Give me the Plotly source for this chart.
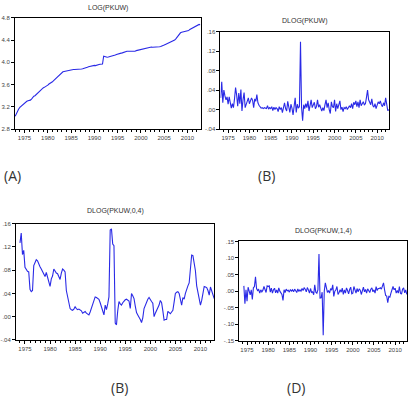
import numpy as np
import plotly.graph_objects as go

# ---------------- data (quarterly) ----------------
start_level = 1973.0          # 1973Q1
start_dlog = 1973.25          # 1973Q2
start_dlog04 = 1974.0         # 1974Q1
start_dlog14 = 1974.25        # 1974Q2

log_pkuw = [
    3.03, 3.08, 3.12, 3.16, 3.19, 3.21, 3.23, 3.25, 3.27, 3.29, 3.30, 3.31,
    3.31, 3.32, 3.34, 3.37, 3.39, 3.40, 3.42, 3.45, 3.47, 3.48, 3.50, 3.52,
    3.54, 3.55, 3.56, 3.58, 3.59, 3.61, 3.62, 3.64, 3.65, 3.67, 3.69, 3.71,
    3.73, 3.75, 3.77, 3.80, 3.82, 3.83, 3.835, 3.84, 3.85, 3.85, 3.855, 3.86,
    3.86, 3.865, 3.87, 3.87, 3.87, 3.875, 3.875, 3.88, 3.88, 3.88, 3.885, 3.89,
    3.89, 3.90, 3.91, 3.92, 3.925, 3.93, 3.94, 3.94, 3.945, 3.94, 3.95, 3.96,
    3.96, 3.965, 3.97, 3.97, 4.11, 4.10, 4.09, 4.09, 4.095, 4.10, 4.10, 4.11,
    4.12, 4.125, 4.13, 4.14, 4.15, 4.15, 4.16, 4.165, 4.17, 4.18, 4.19, 4.195,
    4.20, 4.20, 4.20, 4.20, 4.20, 4.20, 4.195, 4.20, 4.21, 4.215, 4.22, 4.23,
    4.24, 4.245, 4.245, 4.25, 4.255, 4.26, 4.265, 4.27, 4.275, 4.275, 4.27, 4.27,
    4.275, 4.275, 4.28, 4.28, 4.28, 4.285, 4.29, 4.30, 4.31, 4.32, 4.33, 4.335,
    4.34, 4.35, 4.36, 4.37, 4.38, 4.40, 4.42, 4.45, 4.49, 4.51, 4.53, 4.54,
    4.545, 4.55, 4.55, 4.555, 4.56, 4.57, 4.59, 4.60, 4.61, 4.625, 4.64, 4.65,
    4.66, 4.675, 4.68, 4.675,
]

dlog_pkuw = [
    0.024, 0.057, 0.014, 0.040, 0.028, 0.020, 0.026, 0.011, 0.026, 0.015,
    0.003, 0.012, 0.004, 0.022, 0.045, 0.030, 0.007, 0.034, 0.012, 0.041,
    -0.003, 0.020, 0.035, 0.004, 0.010, 0.014, 0.024, 0.012, 0.017, 0.024,
    0.019, 0.004, 0.022, 0.017, 0.031, 0.014, 0.009, 0.005, 0.003, 0.004,
    0.002, 0.004, 0.003, 0.002, 0.008, 0.001, 0.004, 0.002, 0.006, -0.002,
    0.005, 0.000, 0.004, 0.002, -0.004, 0.006, 0.000, 0.004, -0.006, 0.006,
    0.014, 0.002, -0.003, 0.017, 0.004, -0.006, 0.011, 0.003, -0.011, 0.010,
    0.024, -0.006, 0.011, 0.003, 0.006, 0.139, 0.005, -0.023, 0.010, 0.002,
    0.012, 0.004, 0.018, -0.003, 0.012, 0.020, 0.004, 0.008, 0.015, 0.002,
    0.006, 0.020, 0.005, 0.010, 0.000, -0.003, 0.004, -0.002, 0.010, 0.020,
    0.004, 0.014, 0.000, -0.008, 0.016, 0.006, 0.004, 0.020, -0.004, 0.012,
    0.002, 0.008, 0.018, 0.000, 0.005, -0.004, 0.004, 0.002, 0.006, 0.000,
    0.006, 0.008, 0.004, 0.012, 0.002, 0.015, 0.010, 0.018, 0.006, 0.016,
    0.004, 0.020, 0.008, 0.012, 0.016, 0.010, 0.012, 0.025, 0.040, 0.020,
    0.014, 0.010, 0.022, 0.008, 0.005, 0.012, 0.002, 0.010, 0.016, 0.012,
    0.018, 0.010, 0.006, 0.014, 0.008, 0.024, 0.010, -0.002, 0.000,
]

dlog_pkuw_0_4 = [
    0.127, 0.144, 0.107, 0.114, 0.085, 0.080, 0.078, 0.077, 0.047, 0.043,
    0.045, 0.088, 0.092, 0.098, 0.096, 0.090, 0.086, 0.082, 0.078, 0.072,
    0.069, 0.076, 0.068, 0.058, 0.052, 0.065, 0.070, 0.082, 0.077, 0.075,
    0.074, 0.068, 0.064, 0.075, 0.082, 0.080, 0.077, 0.045, 0.034, 0.022,
    0.014, 0.012, 0.011, 0.013, 0.017, 0.014, 0.012, 0.013, 0.011, 0.010,
    0.006, 0.008, 0.009, 0.006, 0.004, 0.003, 0.008, 0.014, 0.022, 0.028,
    0.034, 0.033, 0.031, 0.030, 0.024, 0.017, 0.008, 0.003, 0.020, 0.012,
    0.022, 0.034, 0.149, 0.151, 0.125, 0.122, -0.011, -0.014, 0.010, 0.026,
    0.022, 0.020, 0.024, 0.027, 0.029, 0.030, 0.029, 0.027, 0.014, 0.040,
    0.036, 0.031, 0.018, 0.007, 0.003, 0.000, -0.005, -0.010, -0.002, 0.014,
    0.020, 0.026, 0.030, 0.033, 0.028, 0.026, 0.023, 0.000, 0.006, 0.011,
    0.014, 0.020, 0.028, 0.024, 0.010, -0.006, -0.005, -0.005, 0.009, 0.007,
    0.005, 0.008, 0.011, 0.025, 0.040, 0.042, 0.043, 0.040, 0.030, 0.020,
    0.033, 0.030, 0.040, 0.048, 0.053, 0.058, 0.088, 0.106, 0.105, 0.092,
    0.079, 0.053, 0.040, 0.034, 0.020, 0.028, 0.040, 0.052, 0.051, 0.050,
    0.045, 0.037, 0.051, 0.045, 0.040, 0.031,
]

dlog_pkuw_1_4 = [
    0.016, -0.038, 0.004, -0.030, 0.012, 0.000, -0.011, 0.004, -0.025, 0.010,
    0.014, 0.043, 0.008, 0.002, 0.005, -0.006, 0.004, -0.002, 0.003, 0.014,
    0.001, -0.004, 0.016, 0.014, 0.016, -0.003, 0.009, -0.006, 0.004, 0.009,
    -0.005, 0.004, -0.006, 0.010, 0.000, -0.004, -0.010, -0.028, 0.004, -0.004,
    0.006, 0.001, 0.003, -0.003, 0.005, 0.000, 0.004, -0.002, 0.006, 0.001,
    -0.004, 0.007, -0.001, 0.004, 0.000, 0.008, 0.002, 0.010, 0.006, -0.002,
    0.011, 0.004, -0.006, 0.008, -0.004, -0.002, -0.011, 0.019, -0.003, -0.006,
    0.004, 0.112, -0.021, -0.020, -0.003, -0.133, 0.000, 0.025, 0.008, -0.004,
    0.002, -0.006, 0.008, 0.003, 0.019, -0.016, 0.000, 0.004, 0.014, -0.010,
    -0.004, 0.004, -0.003, 0.009, -0.010, 0.004, -0.006, 0.010, 0.002, -0.008,
    0.005, 0.012, -0.008, -0.006, 0.014, 0.004, -0.006, 0.008, -0.002, 0.007,
    0.003, -0.010, 0.004, 0.012, -0.002, 0.005, -0.006, 0.007, 0.002, -0.004,
    0.006, 0.010, -0.002, 0.004, -0.006, 0.014, 0.002, 0.008, 0.008, 0.010,
    0.006, 0.014, 0.025, 0.004, -0.013, -0.015, -0.035, -0.016, -0.018, -0.006,
    0.007, 0.014, 0.004, 0.009, -0.006, 0.002, -0.006, 0.014, -0.006, -0.009,
    0.006, 0.010, -0.005, 0.004, -0.010,
]

year_ticks = [1975, 1980, 1985, 1990, 1995, 2000, 2005, 2010]
year_labels = ["1975", "1980", "1985", "1990", "1995", "2000", "2005", "2010"]

a_yticks = [2.8, 3.2, 3.6, 4.0, 4.4, 4.8]
a_ylabels = ["2.8", "3.2", "3.6", "4.0", "4.4", "4.8"]
bc_yticks = [-0.04, 0.0, 0.04, 0.08, 0.12, 0.16]
bc_ylabels = ["-.04", ".00", ".04", ".08", ".12", ".16"]
d_yticks = [-0.15, -0.10, -0.05, 0.0, 0.05, 0.10, 0.15]
d_ylabels = ["-.15", "-.10", "-.05", ".00", ".05", ".10", ".15"]

titles = ["LOG(PKUW)", "DLOG(PKUW)", "DLOG(PKUW,0,4)", "DLOG(PKUW,1,4)"]
panel_labels = ["(A)", "(B)", "(B)", "(D)"]


def qdates(start, n):
    return start + 0.25 * np.arange(n)


W, H = 409, 404
# plot areas in pixels: (left, right, top, bottom)
boxes = [(14, 200, 15, 128), (220, 389, 29, 128), (15, 214, 224, 342), (239, 407, 242, 343)]
series = [
    (qdates(start_level, len(log_pkuw)), log_pkuw),
    (qdates(start_dlog, len(dlog_pkuw)), dlog_pkuw),
    (qdates(start_dlog04, len(dlog_pkuw_0_4)), dlog_pkuw_0_4),
    (qdates(start_dlog14, len(dlog_pkuw_1_4)), dlog_pkuw_1_4),
]
xranges = [[1972.95, 2012.8], [1973.2, 2012.8], [1973.2, 2012.8], [1973.2, 2012.8]]
yranges = [[2.8, 4.8], [-0.04, 0.16], [-0.04, 0.16], [-0.15, 0.15]]
yt = [(a_yticks, a_ylabels), (bc_yticks, bc_ylabels), (bc_yticks, bc_ylabels), (d_yticks, d_ylabels)]
title_y = [5, 18, 211, 231]
label_pos = [(12, 175), (266, 175), (119, 390), (296, 390)]

fig = go.Figure()
FONT = "Liberation Sans, Arial, sans-serif"
layout = dict(
    width=W, height=H, margin=dict(l=0, r=0, t=0, b=0),
    paper_bgcolor="white", plot_bgcolor="white", showlegend=False,
)
annotations = []
for i, ((l, r, t, b), (xs, ys)) in enumerate(zip(boxes, series)):
    sfx = "" if i == 0 else str(i + 1)
    fig.add_trace(go.Scatter(x=xs, y=ys, mode="lines",
                             line=dict(color="#2a2ae6", width=1.1),
                             xaxis="x" + sfx, yaxis="y" + sfx, hoverinfo="skip"))
    layout["xaxis" + sfx] = dict(
        domain=[l / W, r / W], anchor="y" + sfx, range=xranges[i],
        tickvals=year_ticks, ticktext=year_labels, ticks="outside", ticklen=3,
        tickcolor="black", tickfont=dict(size=6, color="#444", family=FONT),
        minor=dict(dtick=1, tick0=1975, ticks="outside", ticklen=2, tickcolor="black", showgrid=False),
        showgrid=False, zeroline=False, showline=True, linecolor="black", linewidth=1, mirror=True,
    )
    layout["yaxis" + sfx] = dict(
        domain=[1 - b / H, 1 - t / H], anchor="x" + sfx, range=yranges[i],
        tickvals=yt[i][0], ticktext=yt[i][1], ticks="outside", ticklen=3,
        tickcolor="black", tickfont=dict(size=6, color="#444", family=FONT),
        showgrid=False, zeroline=False, showline=True, linecolor="black", linewidth=1, mirror=True,
    )
    annotations.append(dict(x=(l + r) / 2 / W, y=1 - title_y[i] / H, xref="paper", yref="paper",
                            text=titles[i], showarrow=False, xanchor="center", yanchor="middle",
                            font=dict(size=7, color="#333", family=FONT)))
    lx, ly = label_pos[i]
    annotations.append(dict(x=lx / W, y=1 - ly / H, xref="paper", yref="paper",
                            text=panel_labels[i], showarrow=False, xanchor="center", yanchor="middle",
                            font=dict(size=14, color="#333", family="Open Sans, sans-serif")))

layout["annotations"] = annotations
fig.update_layout(**layout)
fig.write_html("out.html")
